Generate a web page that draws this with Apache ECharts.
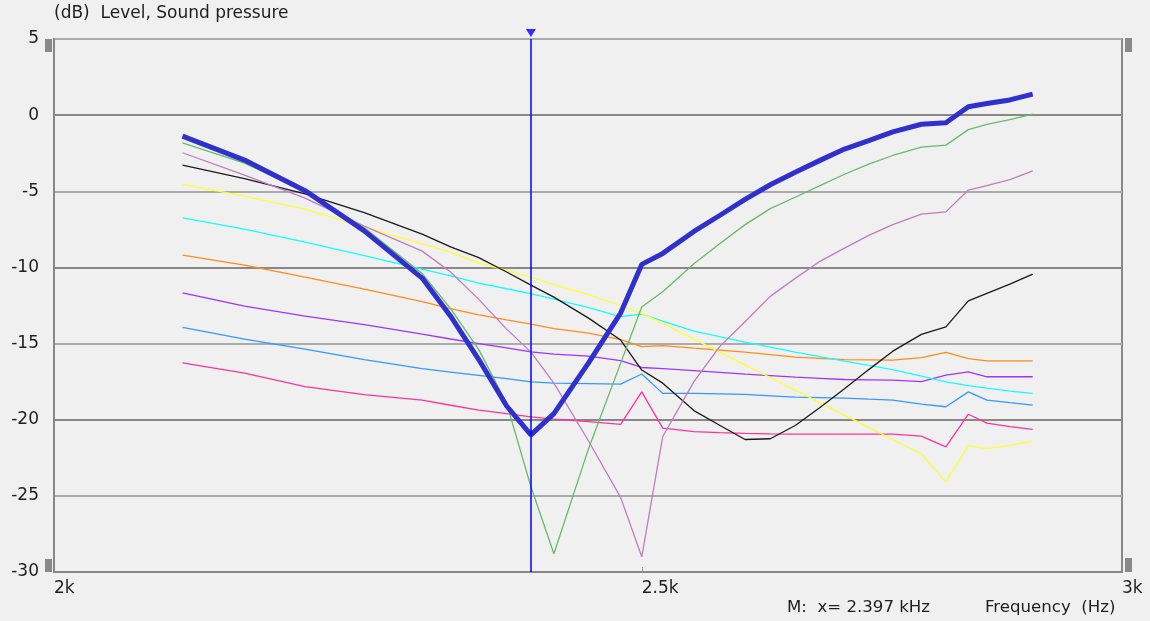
<!DOCTYPE html>
<html>
<head>
<meta charset="utf-8">
<script src="https://cdn.jsdelivr.net/npm/echarts@6/dist/echarts.min.js"></script>
<style>
html,body{margin:0;padding:0;background:#f0f0f0;}
#c{width:1150px;height:621px;}
</style>
</head>
<body>
<div id="c"></div>
<script>
// Frequencies (Hz)
const freqs = [2100, 2150, 2200, 2250, 2300, 2325, 2350, 2375, 2397, 2418, 2450, 2480, 2500, 2520, 2550, 2575, 2600, 2625, 2650, 2675, 2700, 2725, 2750, 2780, 2806, 2830, 2850, 2875, 2900];
// Levels (dB)
const pinkVals      = [-16.27, -16.94, -17.83, -18.35, -18.71, -19.05, -19.37, -19.6, -19.81, -19.96, -20.13, -20.30, -18.17, -20.55, -20.78, -20.85, -20.90, -20.93, -20.95, -20.95, -20.95, -20.95, -20.95, -21.08, -21.78, -19.64, -20.22, -20.45, -20.64];
const lightBlueVals = [-13.94, -14.71, -15.37, -16.05, -16.65, -16.87, -17.09, -17.3, -17.51, -17.60, -17.63, -17.66, -17.00, -18.27, -18.27, -18.3, -18.34, -18.43, -18.52, -18.55, -18.58, -18.65, -18.71, -18.98, -19.15, -18.17, -18.71, -18.88, -19.04];
const violetVals    = [-11.67, -12.54, -13.20, -13.76, -14.38, -14.7, -15.00, -15.28, -15.54, -15.69, -15.82, -16.12, -16.57, -16.65, -16.78, -16.89, -17.00, -17.1, -17.20, -17.28, -17.36, -17.38, -17.40, -17.50, -17.07, -16.86, -17.18, -17.18, -17.18];
const orangeVals    = [-9.19, -9.85, -10.64, -11.43, -12.25, -12.7, -13.12, -13.45, -13.72, -14.02, -14.31, -14.74, -15.20, -15.13, -15.30, -15.43, -15.56, -15.72, -15.89, -15.97, -16.05, -16.07, -16.09, -15.92, -15.58, -15.99, -16.13, -16.13, -16.13];
const cyanVals      = [-6.74, -7.49, -8.34, -9.23, -10.11, -10.55, -11.03, -11.4, -11.72, -12.08, -12.64, -13.23, -13.07, -13.53, -14.18, -14.55, -14.90, -15.23, -15.56, -15.86, -16.15, -16.43, -16.71, -17.14, -17.51, -17.76, -17.93, -18.12, -18.27];
const yellowVals    = [-4.55, -5.32, -6.17, -7.34, -8.46, -9.0, -9.72, -10.19, -10.64, -11.13, -11.79, -12.50, -13.03, -13.66, -14.71, -15.55, -16.40, -17.23, -18.06, -18.88, -19.70, -20.5, -21.30, -22.25, -24.08, -21.70, -21.90, -21.70, -21.40];
const blackVals     = [-3.28, -4.17, -5.17, -6.40, -7.81, -8.65, -9.36, -10.3, -11.16, -11.95, -13.33, -14.77, -16.74, -17.60, -19.40, -20.36, -21.30, -21.25, -20.38, -19.2, -17.96, -16.71, -15.50, -14.40, -13.90, -12.20, -11.70, -11.10, -10.44];
const magentaVals   = [-2.47, -3.94, -5.45, -7.29, -8.93, -10.3, -12.10, -14.05, -15.56, -17.60, -21.40, -25.10, -29.00, -21.10, -17.50, -15.2, -13.57, -11.9, -10.72, -9.6, -8.73, -7.9, -7.19, -6.50, -6.35, -4.92, -4.63, -4.24, -3.66];
const greenVals     = [-1.82, -3.15, -5.00, -7.40, -10.40, -12.7, -15.40, -18.93, -24.40, -28.80, -21.90, -16.30, -12.60, -11.60, -9.76, -8.45, -7.19, -6.14, -5.39, -4.63, -3.88, -3.21, -2.65, -2.10, -1.97, -0.95, -0.60, -0.30, 0.07];
const mainVals      = [-1.38, -2.95, -4.96, -7.60, -10.70, -13.2, -16.05, -19.1, -21.00, -19.60, -16.27, -13.00, -9.80, -9.08, -7.64, -6.59, -5.53, -4.57, -3.75, -2.97, -2.23, -1.67, -1.10, -0.60, -0.50, 0.55, 0.76, 1.00, 1.38];

const markerFreq = 2397;
const xTickValues = [2000, 2500, 3000];
const yTickMin = -30, yTickMax = 5, yTickStep = 5;

const FONT = 'DejaVu Sans';
const TEXT = '#1e1e1e';

function pairs(vals){ return freqs.map((f,i)=>[f, vals[i]]); }
function thin(name, vals, color){
  return {
    name, type:'line', data: pairs(vals), showSymbol:false, symbol:'none',
    lineStyle:{color, width:1.3}, itemStyle:{color}, animation:false, silent:true
  };
}

const series = [
  thin('pink', pinkVals, '#ff3399'),
  thin('lightblue', lightBlueVals, '#3399ff'),
  thin('violet', violetVals, '#a033ff'),
  thin('orange', orangeVals, '#ff8c1a'),
  thin('cyan', cyanVals, '#11ffff'),
  thin('yellow', yellowVals, '#ffff33'),
  thin('black', blackVals, '#1a1a1a'),
  thin('magenta', magentaVals, '#c07cc0'),
  thin('green', greenVals, '#66bb66'),
  {
    name:'main', type:'line', data: pairs(mainVals), showSymbol:false, symbol:'none',
    lineStyle:{color:'#3030cc', width:5}, itemStyle:{color:'#3030cc'}, animation:false, silent:true,
    markLine:{
      silent:true, symbol:['none','none'], label:{show:false},
      lineStyle:{color:'#0000ff', width:1.5, type:'solid'},
      data:[{xAxis: markerFreq}]
    }
  },
  {
    name:'marker', type:'scatter', data:[[markerFreq, yTickMax]], symbol:'triangle',
    symbolRotate:180, symbolSize:[10,8], symbolOffset:[0,-6], clip:false,
    itemStyle:{color:'#0000ff'}, animation:false, silent:true, z:5
  }
];

const chart = echarts.init(document.getElementById('c'), null, {renderer:'canvas'});
chart.setOption({
  backgroundColor:'#f0f0f0',
  animation:false,
  textStyle:{fontFamily:FONT},
  title:[
    {text:'(dB)  Level, Sound pressure', left:54, top:5, padding:0, textStyle:{fontFamily:FONT, fontSize:17, fontWeight:'normal', color:TEXT}},
    {text:'M:  x= ' + (markerFreq/1000).toFixed(3) + ' kHz', left:787, top:599, padding:0, textStyle:{fontFamily:FONT, fontSize:16.6, fontWeight:'normal', color:TEXT}},
    {text:'Frequency  (Hz)', left:985, top:599, padding:0, textStyle:{fontFamily:FONT, fontSize:16.6, fontWeight:'normal', color:TEXT}}
  ],
  grid:{left:54, right:28, top:39, bottom:49, show:true, borderColor:'#888', borderWidth:2, backgroundColor:'#f0f0f0'},
  xAxis:{
    type:'log', logBase:10, min:2000, max:3000,
    axisLine:{show:true, onZero:false, lineStyle:{color:'#888', width:2}},
    axisTick:{show:true, inside:true, length:5, customValues:[xTickValues[1]], lineStyle:{color:'#999', width:1}},
    axisLabel:{show:true, customValues:xTickValues, align:'left', margin:8, fontSize:17, fontFamily:FONT, color:TEXT,
      formatter:(v)=> (Math.round(v)/1000) + 'k'},
    splitLine:{show:false}, minorTick:{show:false}, minorSplitLine:{show:false}
  },
  yAxis:{
    type:'value', min:yTickMin, max:yTickMax, interval:yTickStep,
    axisLine:{show:true, onZero:false, lineStyle:{color:'#888', width:2}},
    axisTick:{show:false},
    axisLabel:{fontSize:17, fontFamily:FONT, color:TEXT, margin:15},
    splitLine:{show:true, lineStyle:{color:['#888','#ababab'], width:2}}
  },
  graphic:[
    {type:'rect', shape:{x:45, y:39, width:7, height:13}, style:{fill:'#888'}},
    {type:'rect', shape:{x:45, y:559, width:7, height:13}, style:{fill:'#888'}},
    {type:'rect', shape:{x:1125, y:38, width:7, height:14}, style:{fill:'#888'}},
    {type:'rect', shape:{x:1125, y:558, width:7, height:14}, style:{fill:'#888'}}
  ],
  series
});
</script>
</body>
</html>
